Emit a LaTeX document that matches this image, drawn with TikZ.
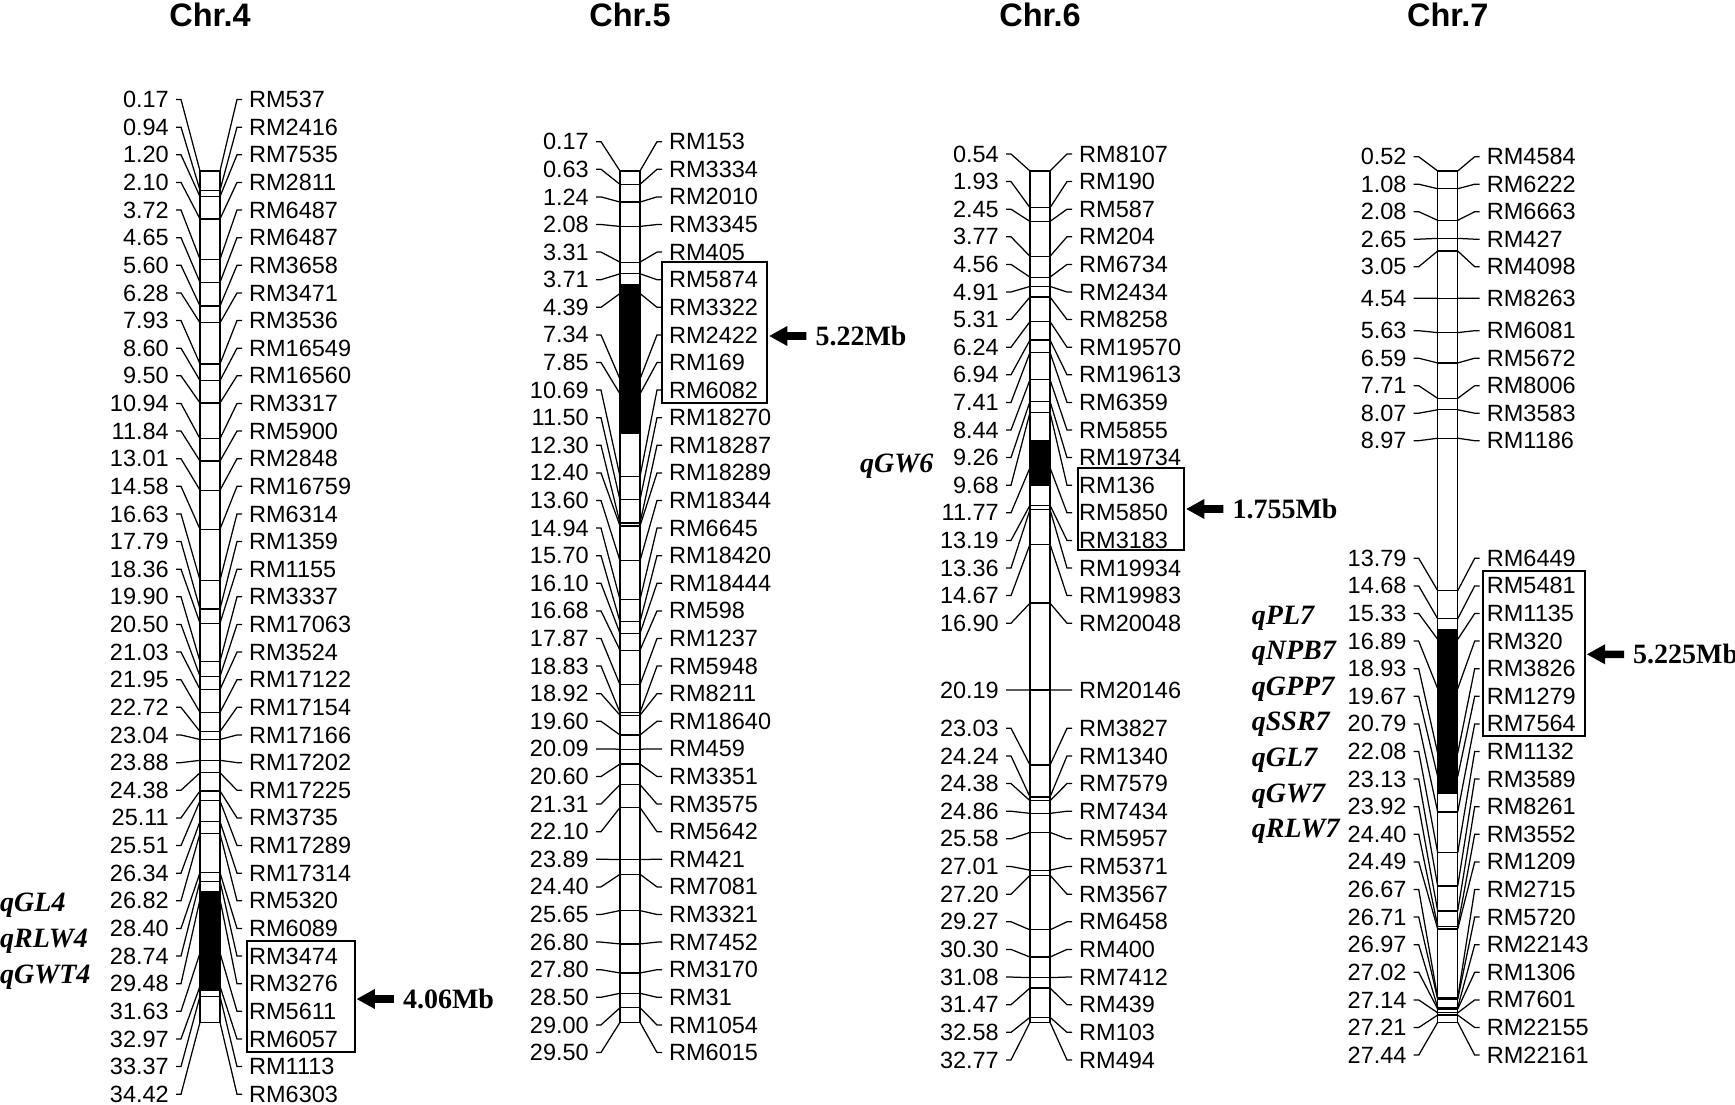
\documentclass[tikz,border=0pt]{standalone}
\usepackage{fontspec}
\setmainfont{Liberation Sans}
\newfontfamily\serifbf{Liberation Serif}
\usetikzlibrary{arrows.meta}
\tikzset{
  lbl/.style={inner sep=0pt, font=\fontsize{23.5}{25}\selectfont},
  conn/.style={line width=1.25pt},
  tickline/.style={line width=1.25pt},
  barline/.style={line width=1.4pt},
  qtl/.style={inner sep=0pt, anchor=base west, font=\fontsize{28}{30}\serifbf\bfseries\itshape},
  sizelbl/.style={inner sep=0pt, anchor=base west, font=\fontsize{28}{30}\serifbf\bfseries},
  chrtitle/.style={inner sep=0pt, anchor=base, font=\fontsize{32.5}{34}\selectfont\bfseries},
  markbox/.style={line width=2.2pt},
  arrowfill/.style={fill=black}
}
% #1 id, #2 bar left x, #3 first Mb, #4 px per Mb, #5 first row y, #6 row step, #7 list
\newcommand{\mseg}[7]{%
  \foreach \mb/\nm [count=\i from 0] in {#7} {
    \pgfmathsetmacro{\ty}{171+(\mb-#3)*#4}
    \pgfmathsetmacro{\ry}{#5+#6*\i}
    \coordinate (#1a\i) at (#2,\ty);
    \coordinate (#1b\i) at (#2+20,\ty);
    \draw[tickline] (#1a\i) -- (#1b\i);
    \node[lbl,anchor=east] (#1p\i) at (#2-31,\ry) {\mb};
    \node[lbl,anchor=west] (#1m\i) at (#2+49,\ry) {\nm};
    \draw[conn] ([xshift=7pt]#1p\i.east) -- ++(5,0) -- (#1a\i);
    \draw[conn] ([xshift=-7pt]#1m\i.west) -- ++(-5,0) -- (#1b\i);
  }
}
% arrow: #1 name of tip coordinate
\newcommand{\sizearrow}[2]{%
  \fill[arrowfill] (#1) -- ++(18,-10) -- ++(0,6.2) -- ++(19,0) -- ++(0,7.6) -- ++(-19,0) -- ++(0,6.2) -- cycle;
  \node[sizelbl] at ([xshift=46pt,yshift=-9.5pt]#1) {#2};
}
\begin{document}
\begin{tikzpicture}[x=1pt,y=-1pt]
\useasboundingbox (0,0) rectangle (1735,1105);
\fill[white] (0,0) rectangle (1735,1105);

% titles
\node[chrtitle] (t4) at (210,26.7) {Chr.4};
\node[chrtitle] (t5) at (630,26.7) {Chr.5};
\node[chrtitle] (t6) at (1040,26.7) {Chr.6};
\node[chrtitle] (t7) at (1447.7,26.7) {Chr.7};

% QTL black regions
\fill (200,890.8) rectangle (220,990.5);
\fill (620,284) rectangle (640,434.3);
\fill (1030,440) rectangle (1050,486);
\fill (1437.7,629.3) rectangle (1457.7,794.3);

% Chr.4
\mseg{cA}{200}{0.17}{24.856}{99.5}{27.63}{0.17/RM537, 0.94/RM2416, 1.20/RM7535, 2.10/RM2811, 3.72/RM6487, 4.65/RM6487, 5.60/RM3658, 6.28/RM3471, 7.93/RM3536, 8.60/RM16549, 9.50/RM16560, 10.94/RM3317, 11.84/RM5900, 13.01/RM2848, 14.58/RM16759, 16.63/RM6314, 17.79/RM1359, 18.36/RM1155, 19.90/RM3337, 20.50/RM17063, 21.03/RM3524, 21.95/RM17122, 22.72/RM17154, 23.04/RM17166, 23.88/RM17202, 24.38/RM17225, 25.11/RM3735, 25.51/RM17289, 26.34/RM17314, 26.82/RM5320, 28.40/RM6089, 28.74/RM3474, 29.48/RM3276, 31.63/RM5611, 32.97/RM6057, 33.37/RM1113, 34.42/RM6303}

% Chr.5
\mseg{cB}{620}{0.17}{29.025}{141.7}{27.6}{0.17/RM153, 0.63/RM3334, 1.24/RM2010, 2.08/RM3345, 3.31/RM405, 3.71/RM5874, 4.39/RM3322, 7.34/RM2422, 7.85/RM169, 10.69/RM6082, 11.50/RM18270, 12.30/RM18287, 12.40/RM18289, 13.60/RM18344, 14.94/RM6645, 15.70/RM18420, 16.10/RM18444, 16.68/RM598, 17.87/RM1237, 18.83/RM5948, 18.92/RM8211, 19.60/RM18640, 20.09/RM459, 20.60/RM3351, 21.31/RM3575, 22.10/RM5642, 23.89/RM421, 24.40/RM7081, 25.65/RM3321, 26.80/RM7452, 27.80/RM3170, 28.50/RM31, 29.00/RM1054, 29.50/RM6015}

% Chr.6
\mseg{cC}{1030}{0.54}{26.413}{154}{27.6}{0.54/RM8107, 1.93/RM190, 2.45/RM587, 3.77/RM204, 4.56/RM6734, 4.91/RM2434, 5.31/RM8258, 6.24/RM19570, 6.94/RM19613, 7.41/RM6359, 8.44/RM5855, 9.26/RM19734, 9.68/RM136, 11.77/RM5850, 13.19/RM3183, 13.36/RM19934, 14.67/RM19983, 16.90/RM20048}
\mseg{cD}{1030}{0.54}{26.413}{690}{27.6}{20.19/RM20146}
\mseg{cE}{1030}{0.54}{26.413}{728.3}{27.64}{23.03/RM3827, 24.24/RM1340, 24.38/RM7579, 24.86/RM7434, 25.58/RM5957, 27.01/RM5371, 27.20/RM3567, 29.27/RM6458, 30.30/RM400, 31.08/RM7412, 31.47/RM439, 32.58/RM103, 32.77/RM494}

% Chr.7
\mseg{cF}{1437.7}{0.52}{31.624}{156.7}{27.5}{0.52/RM4584, 1.08/RM6222, 2.08/RM6663, 2.65/RM427, 3.05/RM4098}
\mseg{cG}{1437.7}{0.52}{31.624}{298.3}{27.5}{4.54/RM8263}
\mseg{cH}{1437.7}{0.52}{31.624}{330.7}{27.5}{5.63/RM6081, 6.59/RM5672, 7.71/RM8006, 8.07/RM3583, 8.97/RM1186}
\mseg{cI}{1437.7}{0.52}{31.624}{558.3}{27.6}{13.79/RM6449, 14.68/RM5481, 15.33/RM1135, 16.89/RM320, 18.93/RM3826, 19.67/RM1279, 20.79/RM7564, 22.08/RM1132, 23.13/RM3589, 23.92/RM8261, 24.40/RM3552, 24.49/RM1209, 26.67/RM2715, 26.71/RM5720, 26.97/RM22143, 27.02/RM1306, 27.14/RM7601, 27.21/RM22155, 27.44/RM22161}

% chromosome bars
\draw[barline] (200,171) rectangle (220,1022.3);
\draw[barline] (620,171) rectangle (640,1022.3);
\draw[barline] (1030,171) rectangle (1050,1022.3);
\draw[barline] (1437.7,171) rectangle (1457.7,1022.3);

% marker boxes
\draw[markbox] (246.7,941) rectangle (355,1052.3);
\draw[markbox] (662.3,262.3) rectangle (767.3,402.7);
\draw[markbox] (1077.7,467.7) rectangle (1184,550);
\draw[markbox] (1483.3,571) rectangle (1585,735.7);

% arrows and sizes
\coordinate (ar4) at (356.8,999);
\coordinate (ar5) at (769.3,336);
\coordinate (ar6) at (1186.3,509);
\coordinate (ar7) at (1587,654.3);
\sizearrow{ar4}{4.06Mb}
\sizearrow{ar5}{5.22Mb}
\sizearrow{ar6}{1.755Mb}
\sizearrow{ar7}{5.225Mb}

% QTL names
\node[qtl] (q41) at (0,911) {qGL4};
\node[qtl] (q42) at (0,947) {qRLW4};
\node[qtl] (q43) at (0,983) {qGWT4};
\node[qtl] (q61) at (860,472) {qGW6};
\node[qtl] (q71) at (1251.7,624) {qPL7};
\node[qtl] (q72) at (1251.7,659.6) {qNPB7};
\node[qtl] (q73) at (1251.7,695.2) {qGPP7};
\node[qtl] (q74) at (1251.7,730.8) {qSSR7};
\node[qtl] (q75) at (1251.7,766.4) {qGL7};
\node[qtl] (q76) at (1251.7,802) {qGW7};
\node[qtl] (q77) at (1251.7,837.6) {qRLW7};
\end{tikzpicture}
\end{document}
